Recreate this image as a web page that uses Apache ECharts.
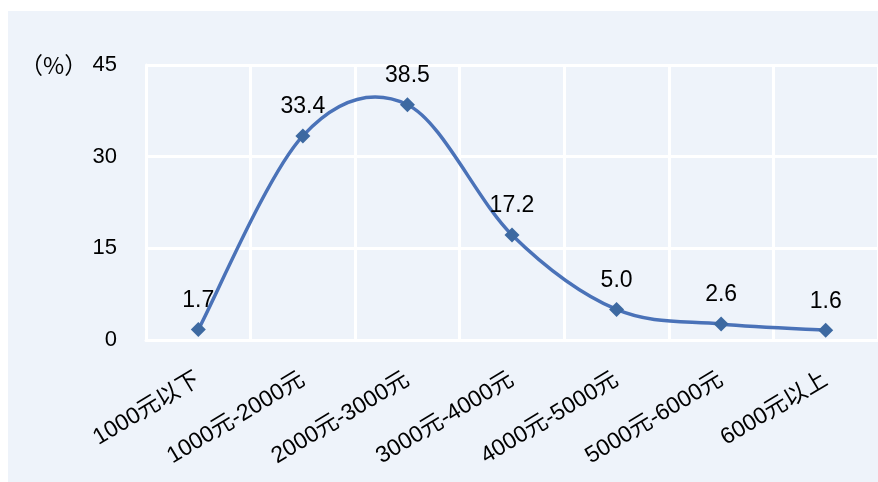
<!DOCTYPE html>
<html>
<head>
<meta charset="utf-8">
<script src="https://cdn.jsdelivr.net/npm/echarts@6/dist/echarts.min.js"></script>
<style>
html,body{margin:0;padding:0;background:#fff;}
#chart{width:878px;height:482px;}
</style>
</head>
<body>
<div id="chart"></div>
<script>
// Income brackets and share of respondents (%)
const categories = ['1000元以下', '1000元-2000元', '2000元-3000元', '3000元-4000元', '4000元-5000元', '5000元-6000元', '6000元以上'];
const shares = [1.7, 33.4, 38.5, 17.2, 5.0, 2.6, 1.6];
const yTicks = [0, 15, 30, 45];

const chart = echarts.init(document.getElementById('chart'));
const font = '"Liberation Sans", Arial, "Noto Sans CJK SC", sans-serif';
const lineColor = '#4A72B8';

// Cardinal-spline curve through the data points (spreadsheet-style smoothing),
// built from pixel positions given by the axes.
function renderCurve(params, api) {
  const pts = shares.map((v, i) => api.coord([i, v]));
  const n = pts.length;
  const P = i => pts[Math.max(0, Math.min(n - 1, i))];
  let d = 'M' + pts[0][0] + ' ' + pts[0][1];
  for (let i = 0; i < n - 1; i++) {
    const p0 = P(i - 1), p1 = P(i), p2 = P(i + 1), p3 = P(i + 2);
    const c1 = [p1[0] + (p2[0] - p0[0]) / 6, p1[1] + (p2[1] - p0[1]) / 6];
    const c2 = [p2[0] - (p3[0] - p1[0]) / 6, p2[1] - (p3[1] - p1[1]) / 6];
    d += ' C' + c1[0] + ' ' + c1[1] + ' ' + c2[0] + ' ' + c2[1] + ' ' + p2[0] + ' ' + p2[1];
  }
  return {
    type: 'path',
    shape: { pathData: d },
    style: { fill: 'none', stroke: lineColor, lineWidth: 3.5 }
  };
}

chart.setOption({
  backgroundColor: '#fff',
  graphic: [
    { type: 'rect', left: 8, top: 11, shape: { width: 870, height: 471 }, style: { fill: '#EEF3FA' }, z: -10 },
    { type: 'text', left: 20, top: 54, style: { text: '（%）', font: '23px "Noto Sans CJK SC", ' + font, fill: '#000' } }
  ],
  grid: { left: 146, top: 65, width: 735, height: 275, containLabel: false },
  xAxis: {
    type: 'category',
    data: categories,
    boundaryGap: true,
    axisLine: { show: true, lineStyle: { color: '#fff', width: 3 } },
    axisTick: { show: false },
    splitLine: { show: true, lineStyle: { color: '#fff', width: 3 } },
    axisLabel: { rotate: 31, color: '#000', fontSize: 23, fontFamily: font, margin: 38, interval: 0 }
  },
  yAxis: {
    type: 'value',
    min: yTicks[0],
    max: yTicks[yTicks.length - 1],
    interval: 15,
    axisLine: { show: true, lineStyle: { color: '#fff', width: 3 } },
    axisTick: { show: false },
    splitLine: { show: true, lineStyle: { color: '#fff', width: 3 } },
    axisLabel: { color: '#000', fontSize: 22, fontFamily: font, margin: 29 }
  },
  series: [
    {
      type: 'custom',
      data: [0],
      renderItem: renderCurve,
      silent: true,
      z: 1
    },
    {
      type: 'line',
      data: shares,
      symbol: 'diamond',
      symbolSize: 15,
      itemStyle: { color: '#3D69A1' },
      lineStyle: { opacity: 0 },
      z: 3,
      label: {
        show: true,
        position: 'top',
        distance: 10,
        color: '#000',
        fontSize: 23,
        fontFamily: font,
        formatter: p => p.value.toFixed(1)
      }
    }
  ]
});
</script>
</body>
</html>
